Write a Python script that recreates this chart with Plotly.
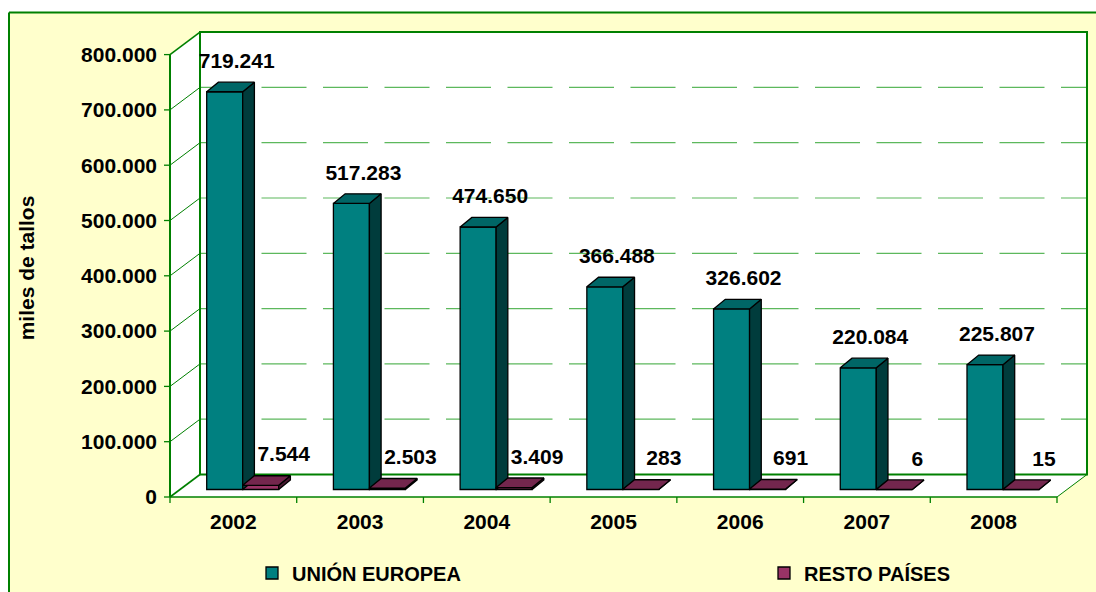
import plotly.graph_objects as go

# ---------------- data ----------------
years = ["2002", "2003", "2004", "2005", "2006", "2007", "2008"]
union_europea = [719241, 517283, 474650, 366488, 326602, 220084, 225807]
resto_paises = [7544, 2503, 3409, 283, 691, 6, 15]
series_names = ["UNIÓN EUROPEA", "RESTO PAÍSES"]
y_tick_values = [0, 100000, 200000, 300000, 400000, 500000, 600000, 700000, 800000]
y_title = "miles de tallos"

# ---------------- styling / geometry (page pixels) ----------------
PAGE_W, PAGE_H = 1096, 592
W, H = PAGE_W, PAGE_H
FRONT_L = 170          # front vertical axis (page x)
FRONT_R = 1057         # right end of front floor edge
ZERO_PY = 497          # page y of value 0 on front plane
PLOT_L, PLOT_R, PLOT_T, PLOT_B = 158, 1089, 29, 507
N = len(years)
CAT_PX = (FRONT_R - FRONT_L) / N
VAL_PX = 0.553 / 1000.0


def dx(px):
    return px / CAT_PX


def dy(px):
    return px / VAL_PX


def paper_x(px):
    return (px - PLOT_L) / (PLOT_R - PLOT_L)


def paper_y(py):
    return (PLOT_B - py) / (PLOT_B - PLOT_T)


X_FRONT = -0.5
X_MIN = X_FRONT - dx(FRONT_L - PLOT_L)
X_MAX = X_FRONT + dx(PLOT_R - FRONT_L)
Y_MIN = -dy(PLOT_B - ZERO_PY)
Y_MAX = dy(ZERO_PY - PLOT_T)

WALL_DX, WALL_DY = dx(30), dy(22.5)
X_BACK_L = X_FRONT + WALL_DX
X_BACK_R = X_FRONT + N + WALL_DX
Y_TOP = y_tick_values[-1]

BAR_W = dx(36)
BAR_OFF = [dx(36.7) - 0.5, dx(36.7 + 36) - 0.5]   # left edge offset of each series
BASE = dy(7.5)
DEPTH_X, DEPTH_Y = dx(11.7), dy(9.6)
LABEL_DX = [dx(30), dx(41)]
LABEL_DY = dy(19.5)

GREEN = "#008000"
GRID = "#5DB85D"
BG_YELLOW = "#FFFFCC"
FRONT_COL = ["#008080", "#993366"]
TOP_COL = ["#006666", "#73264D"]
SIDE_COL = ["#003C3C", "#4A1830"]
FONT = "Liberation Sans, Arial, sans-serif"
LEGEND_X = [252, 764]          # page x of each legend box
LEGEND_Y = 573                 # page y of legend centre

idx = list(range(N))
series = [union_europea, resto_paises]


def fmt(v):
    return f"{v:,}".replace(",", ".")


fig = go.Figure()

# front faces (real bars)
legend_ids = ["legend", "legend2"]
for s, vals in enumerate(series):
    fig.add_trace(go.Bar(
        x=idx, y=vals, base=BASE, offset=BAR_OFF[s], width=BAR_W,
        name=series_names[s], legend=legend_ids[s],
        marker=dict(color=FRONT_COL[s], line=dict(color="black", width=1.3)),
        hoverinfo="skip",
    ))

# 3D top and side faces computed from the same values
for s, vals in enumerate(series):
    tx, ty, sx, sy = [], [], [], []
    for i, v in zip(idx, vals):
        xl = i + BAR_OFF[s]
        xr = xl + BAR_W
        yt = BASE + v
        tx += [xl, xr, xr + DEPTH_X, xl + DEPTH_X, xl, None]
        ty += [yt, yt, yt + DEPTH_Y, yt + DEPTH_Y, yt, None]
        sx += [xr, xr + DEPTH_X, xr + DEPTH_X, xr, xr, None]
        sy += [BASE, BASE + DEPTH_Y, yt + DEPTH_Y, yt, BASE, None]
    fig.add_trace(go.Scatter(x=sx, y=sy, mode="lines", fill="toself",
                             fillcolor=SIDE_COL[s], line=dict(color="black", width=1.3),
                             showlegend=False, hoverinfo="skip"))
    fig.add_trace(go.Scatter(x=tx, y=ty, mode="lines", fill="toself",
                             fillcolor=TOP_COL[s], line=dict(color="black", width=1.3),
                             showlegend=False, hoverinfo="skip"))

# data labels
for s, vals in enumerate(series):
    fig.add_trace(go.Scatter(
        x=[i + BAR_OFF[s] + LABEL_DX[s] for i in idx],
        y=[BASE + v + DEPTH_Y + LABEL_DY for v in vals],
        mode="text", text=[fmt(v) for v in vals], textposition="middle center",
        textfont=dict(family=FONT, size=21, color="black", weight="bold"),
        showlegend=False, hoverinfo="skip", cliponaxis=False,
    ))

shapes = []
# outer chart area: yellow fill, green border on the visible left and top sides
shapes.append(dict(type="rect", xref="paper", yref="paper", layer="below",
                   x0=paper_x(9), x1=paper_x(PAGE_W), y0=paper_y(PAGE_H), y1=paper_y(12.5),
                   fillcolor=BG_YELLOW, line=dict(width=0)))
shapes.append(dict(type="line", xref="paper", yref="paper", layer="below",
                   x0=paper_x(9), x1=paper_x(9), y0=paper_y(PAGE_H), y1=paper_y(12.5),
                   line=dict(color=GREEN, width=2)))
shapes.append(dict(type="line", xref="paper", yref="paper", layer="below",
                   x0=paper_x(9), x1=paper_x(PAGE_W), y0=paper_y(12.5), y1=paper_y(12.5),
                   line=dict(color=GREEN, width=2)))
# white 3D box silhouette
box = [(X_FRONT, Y_TOP), (X_BACK_L, Y_TOP + WALL_DY), (X_BACK_R, Y_TOP + WALL_DY),
       (X_BACK_R, WALL_DY), (X_FRONT + N, 0), (X_FRONT, 0)]
path = "M " + " L ".join(f"{x},{y}" for x, y in box) + " Z"
shapes.append(dict(type="path", xref="x", yref="y", layer="below", path=path,
                   fillcolor="white", line=dict(width=0)))
# back wall gridlines (dashed)
for v in y_tick_values[1:-1]:
    shapes.append(dict(type="line", xref="x", yref="y", layer="below",
                       x0=X_BACK_L, x1=X_BACK_R, y0=v + WALL_DY, y1=v + WALL_DY,
                       line=dict(color=GRID, width=1.2, dash="45px,16.5px")))
# side wall diagonals
for v in y_tick_values:
    edge = v in (y_tick_values[0], y_tick_values[-1])
    shapes.append(dict(type="line", xref="x", yref="y", layer="below",
                       x0=X_FRONT, x1=X_BACK_L, y0=v, y1=v + WALL_DY,
                       line=dict(color=GREEN, width=1.6 if edge else 1)))
# back wall frame
shapes.append(dict(type="rect", xref="x", yref="y", layer="below",
                   x0=X_BACK_L, x1=X_BACK_R, y0=WALL_DY, y1=Y_TOP + WALL_DY,
                   line=dict(color=GREEN, width=2)))
# front value axis
shapes.append(dict(type="line", xref="x", yref="y", layer="below",
                   x0=X_FRONT, x1=X_FRONT, y0=0, y1=Y_TOP, line=dict(color=GREEN, width=2)))
# front floor edge and right floor diagonal
shapes.append(dict(type="line", xref="x", yref="y", layer="below",
                   x0=X_FRONT, x1=X_FRONT + N, y0=0, y1=0, line=dict(color=GREEN, width=1.6)))
shapes.append(dict(type="line", xref="x", yref="y", layer="below",
                   x0=X_FRONT + N, x1=X_BACK_R, y0=0, y1=WALL_DY, line=dict(color=GREEN, width=1)))
# value axis tick marks
for v in y_tick_values:
    shapes.append(dict(type="line", xref="x", yref="y", layer="below",
                       x0=X_FRONT - dx(6), x1=X_FRONT, y0=v, y1=v,
                       line=dict(color=GREEN, width=1.3)))
# category boundary tick marks
for k in range(N + 1):
    shapes.append(dict(type="line", xref="x", yref="y", layer="below",
                       x0=X_FRONT + k, x1=X_FRONT + k, y0=0, y1=-dy(6),
                       line=dict(color=GREEN, width=1.3)))

legend_style = dict(orientation="h", xref="container", yref="container",
                    xanchor="left", yanchor="middle",
                    y=1 - LEGEND_Y / H,
                    bgcolor="rgba(0,0,0,0)", borderwidth=0,
                    font=dict(family=FONT, size=20, color="black", weight="bold"))

fig.update_layout(
    template="none",
    width=W, height=H, autosize=False,
    margin=dict(l=PLOT_L, r=PAGE_W - PLOT_R, t=PLOT_T,
                b=PAGE_H - PLOT_B, pad=0, autoexpand=False),
    paper_bgcolor="white", plot_bgcolor="rgba(0,0,0,0)",
    barmode="overlay", separators=",.",
    shapes=shapes,
    font=dict(family=FONT, size=21, color="black"),
    showlegend=True,
    legend=dict(legend_style, x=LEGEND_X[0] / W),
    legend2=dict(legend_style, x=LEGEND_X[1] / W),
    xaxis=dict(range=[X_MIN, X_MAX], showgrid=False, zeroline=False, showline=False,
               automargin=False,
               tickmode="array", tickvals=idx, ticktext=years, ticks="",
               tickfont=dict(family=FONT, size=21, color="black", weight="bold"),
               ticklabelstandoff=0, fixedrange=True),
    yaxis=dict(range=[Y_MIN, Y_MAX], showgrid=False, zeroline=False, showline=False,
               automargin=False,
               tickmode="array", tickvals=y_tick_values,
               ticktext=[fmt(v) for v in y_tick_values], ticks="",
               tickfont=dict(family=FONT, size=21, color="black", weight="bold"),
               ticklabelstandoff=0,
               title=dict(text=y_title, standoff=40,
                          font=dict(family=FONT, size=21, color="black", weight="bold")),
               fixedrange=True),
)

# remove the browser's default 8px page margin so the figure fills the window exactly
fig.write_html("out.html",
               config={"displayModeBar": False},
               post_script="document.body.style.margin='0';document.body.style.overflow='hidden';")
